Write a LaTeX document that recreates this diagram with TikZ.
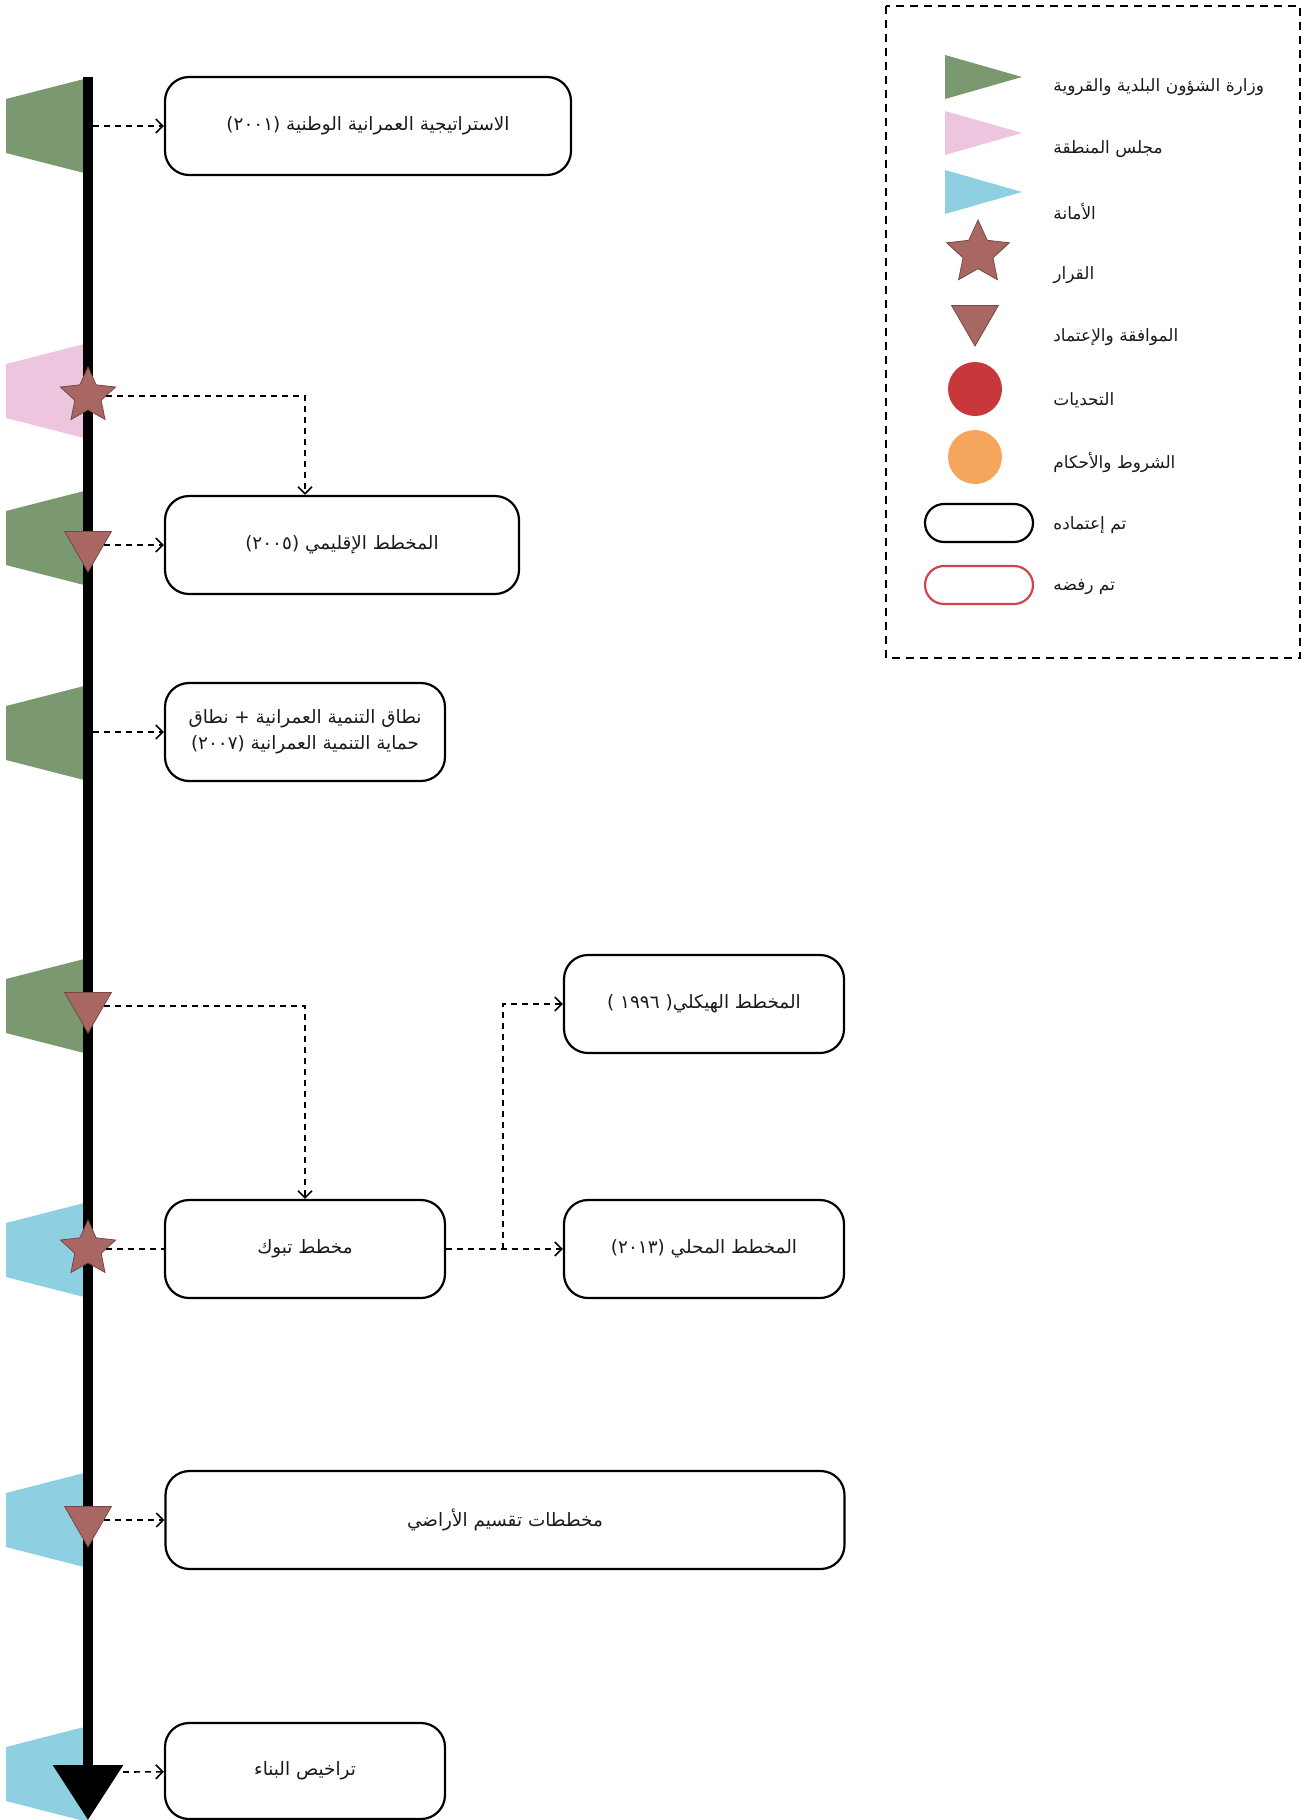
\documentclass[tikz,border=0pt]{standalone}
\usepackage{fontspec}
\usetikzlibrary{arrows.meta,shapes.geometric}
\TeXXeTstate=1
\newfontfamily\arabicfont[Script=Arabic]{DejaVu Sans}
\definecolor{ministry}{HTML}{7B9970}
\definecolor{council}{HTML}{EEC5DE}
\definecolor{amana}{HTML}{8ED0E2}
\definecolor{verdict}{HTML}{A86763}
\definecolor{challenge}{HTML}{C8383A}
\definecolor{terms}{HTML}{F6A65C}
\definecolor{rejected}{HTML}{D0454C}
\definecolor{ink}{HTML}{1A1A1A}
\begin{document}
\begin{tikzpicture}[x=0.5pt,y=-0.5pt,
    plan/.style={draw, rounded corners=12pt, line width=1.1pt, minimum height=49pt,
      inner sep=2pt, align=center, text=ink, font=\arabicfont\fontsize{9.2}{13}\selectfont},
    link/.style={dash pattern=on 3pt off 2.5pt, line width=0.8pt,
      -{Straight Barb[length=3.5pt,width=7pt]}},
    decision/.style={star, star points=5, star point ratio=2.1, minimum size=29pt,
      inner sep=0pt, fill=verdict, draw=verdict!70!black, line width=0.4pt},
    approval/.style={regular polygon, regular polygon sides=3, shape border rotate=180,
      minimum size=27pt, inner sep=0pt, fill=verdict, draw=verdict!70!black, line width=0.4pt},
    legendtext/.style={anchor=west, inner sep=0pt, text=ink, font=\arabicfont\fontsize{8.5}{10}\selectfont}]
  \useasboundingbox (0,0) rectangle (1304,1820);

  \foreach \c/\y in {ministry/126, council/391, ministry/538, ministry/733,
                     ministry/1006, amana/1250, amana/1520, amana/1774}
    \fill[\c] (88,\y-48) -- (88,\y+48) -- (6,\y+27) -- (6,\y-27) -- cycle;

  \coordinate (t0) at (88,77);
  \coordinate (t1) at (88,1820);
  \draw[line width=5pt, -{Triangle[width=34pt,length=27.5pt]}] (t0) -- (t1);

  \node[decision] (s1) at (88,396) {};
  \node[approval] (v1) at (88,545) {};
  \node[approval] (v2) at (88,1006) {};
  \node[decision] (s2) at (88,1249) {};
  \node[approval] (v3) at (88,1520) {};

  \node[plan, minimum width=203pt] (A) at (368,126) {\beginR الاستراتيجية العمرانية الوطنية (٢٠٠١)\endR};
  \node[plan, minimum width=177pt] (B) at (342,545) {\beginR المخطط الإقليمي (٢٠٠٥)\endR};
  \node[plan, minimum width=140pt] (C) at (305,732) {\beginR نطاق التنمية العمرانية + نطاق\endR\\
    \beginR حماية التنمية العمرانية (٢٠٠٧)\endR};
  \node[plan, minimum width=140pt] (D) at (704,1004) {\beginR المخطط الهيكلي( ١٩٩٦ )\endR};
  \node[plan, minimum width=140pt] (E) at (305,1249) {\beginR مخطط تبوك\endR};
  \node[plan, minimum width=140pt] (F) at (704,1249) {\beginR المخطط المحلي (٢٠١٣)\endR};
  \node[plan, minimum width=339.5pt] (G) at (505,1520) {\beginR مخططات تقسيم الأراضي\endR};
  \node[plan, minimum width=140pt, minimum height=48pt] (H) at (305,1771) {\beginR تراخيص البناء\endR};

  \coordinate (a0) at (93,126);
  \coordinate (c0) at (93,732);
  \coordinate (h0) at (123,1772);
  \coordinate (fork) at (503,1249);
  \draw[link] (a0) -- (A);
  \draw[link] (s1) -| (B.north -| C.north);
  \draw[link] (v1) -- (B);
  \draw[link] (c0) -- (C);
  \draw[link] (v2) -| (E);
  \draw[link, -] (s2) -- (E);
  \draw[link] (E) -- (F);
  \draw[link] (fork) |- (D);
  \draw[link] (v3) -- (G);
  \draw[link] (h0) -- (H);

  \draw[dash pattern=on 4pt off 3pt, line width=1.1pt] (886,6) rectangle (1300,658);
  \foreach \c/\y in {ministry/77, council/133, amana/192}
    \fill[\c] (945,\y-22) -- (1022,\y) -- (945,\y+22) -- cycle;
  \node[decision, minimum size=33pt] (kdec) at (978,253) {};
  \node[approval] (kapp) at (975,319) {};
  \node[circle, fill=challenge, minimum size=27pt, inner sep=0pt] (kch) at (975,389) {};
  \node[circle, fill=terms, minimum size=27pt, inner sep=0pt] (kterms) at (975,457) {};
  \node[draw, rounded corners=9.5pt, line width=1.1pt, minimum width=54pt, minimum height=19pt] (kok) at (979,523) {};
  \node[draw=rejected, rounded corners=9.5pt, line width=1.1pt, minimum width=54pt, minimum height=19pt] (kno) at (979,585) {};
  \foreach \y/\t in {87/وزارة الشؤون البلدية والقروية, 149/مجلس المنطقة, 212/الأمانة,
                     275/القرار, 337/الموافقة والإعتماد, 400/التحديات,
                     462/الشروط والأحكام, 525/تم إعتماده, 587/تم رفضه}
    \node[legendtext] (k\y) at (1053,\y) {\beginR\t\endR};
\end{tikzpicture}
\end{document}
